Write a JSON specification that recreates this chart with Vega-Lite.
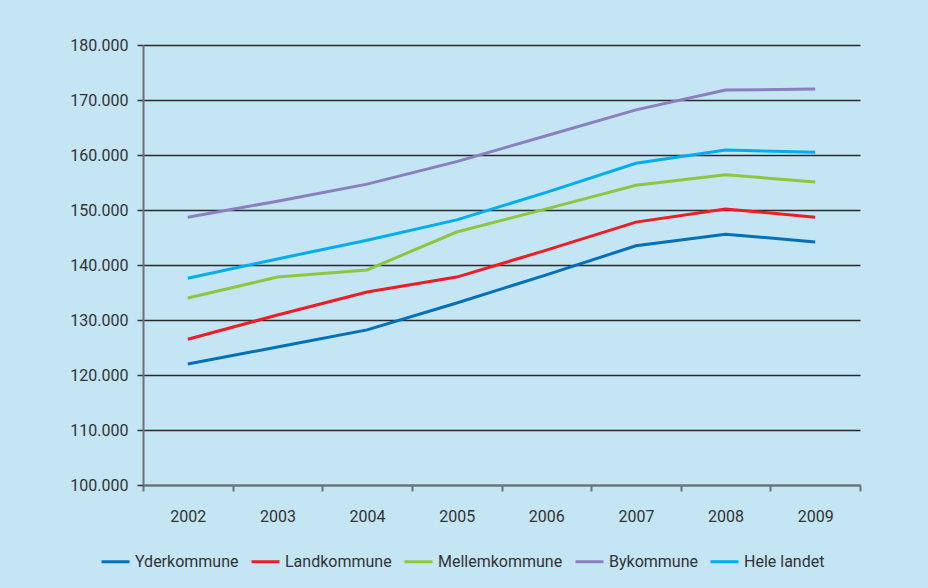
{
  "$schema": "https://vega.github.io/schema/vega-lite/v6.json",
  "width": 717,
  "height": 440,
  "autosize": {"type": "none"},
  "padding": {"left": 143, "top": 45, "right": 68, "bottom": 103},
  "background": "#c3e5f4",
  "config": {
    "locale": {"number": {"decimal": ",", "thousands": ".", "grouping": [3], "currency": ["", " kr"]}},
    "view": {"stroke": null},
    "font": "Roboto"
  },
  "data": {
    "values": [
      {"year": "2002", "series": "Yderkommune", "value": 122000},
      {"year": "2003", "series": "Yderkommune", "value": 125100},
      {"year": "2004", "series": "Yderkommune", "value": 128200},
      {"year": "2005", "series": "Yderkommune", "value": 133100},
      {"year": "2006", "series": "Yderkommune", "value": 138200},
      {"year": "2007", "series": "Yderkommune", "value": 143500},
      {"year": "2008", "series": "Yderkommune", "value": 145600},
      {"year": "2009", "series": "Yderkommune", "value": 144200},
      {"year": "2002", "series": "Landkommune", "value": 126500},
      {"year": "2003", "series": "Landkommune", "value": 130900},
      {"year": "2004", "series": "Landkommune", "value": 135100},
      {"year": "2005", "series": "Landkommune", "value": 137800},
      {"year": "2006", "series": "Landkommune", "value": 142700},
      {"year": "2007", "series": "Landkommune", "value": 147800},
      {"year": "2008", "series": "Landkommune", "value": 150200},
      {"year": "2009", "series": "Landkommune", "value": 148700},
      {"year": "2002", "series": "Mellemkommune", "value": 134000},
      {"year": "2003", "series": "Mellemkommune", "value": 137800},
      {"year": "2004", "series": "Mellemkommune", "value": 139100},
      {"year": "2005", "series": "Mellemkommune", "value": 146000},
      {"year": "2006", "series": "Mellemkommune", "value": 150200},
      {"year": "2007", "series": "Mellemkommune", "value": 154500},
      {"year": "2008", "series": "Mellemkommune", "value": 156400},
      {"year": "2009", "series": "Mellemkommune", "value": 155100},
      {"year": "2002", "series": "Bykommune", "value": 148700},
      {"year": "2003", "series": "Bykommune", "value": 151600},
      {"year": "2004", "series": "Bykommune", "value": 154700},
      {"year": "2005", "series": "Bykommune", "value": 158800},
      {"year": "2006", "series": "Bykommune", "value": 163500},
      {"year": "2007", "series": "Bykommune", "value": 168200},
      {"year": "2008", "series": "Bykommune", "value": 171800},
      {"year": "2009", "series": "Bykommune", "value": 172000},
      {"year": "2002", "series": "Hele landet", "value": 137600},
      {"year": "2003", "series": "Hele landet", "value": 141100},
      {"year": "2004", "series": "Hele landet", "value": 144500},
      {"year": "2005", "series": "Hele landet", "value": 148200},
      {"year": "2006", "series": "Hele landet", "value": 153200},
      {"year": "2007", "series": "Hele landet", "value": 158500},
      {"year": "2008", "series": "Hele landet", "value": 160900},
      {"year": "2009", "series": "Hele landet", "value": 160500}
    ]
  },
  "mark": {"type": "line", "strokeWidth": 3},
  "encoding": {
    "x": {
      "field": "year",
      "type": "ordinal",
      "scale": {"type": "band", "paddingInner": 0, "paddingOuter": 0},
      "axis": {
        "title": null,
        "labelAngle": 0,
        "tickBand": "extent",
        "grid": false,
        "domainColor": "#6b7379",
        "domainWidth": 2,
        "tickColor": "#6b7379",
        "tickWidth": 2,
        "tickSize": 6,
        "labelFont": "Roboto",
        "labelFontSize": 16,
        "labelColor": "#333333",
        "labelPadding": 17
      }
    },
    "y": {
      "field": "value",
      "type": "quantitative",
      "scale": {"domain": [100000, 180000], "nice": false, "zero": false},
      "axis": {
        "title": null,
        "values": [100000, 110000, 120000, 130000, 140000, 150000, 160000, 170000, 180000],
        "format": ",d",
        "grid": true,
        "gridColor": "#2a2a2a",
        "gridWidth": 1.5,
        "domainColor": "#6b7379",
        "domainWidth": 2,
        "tickColor": "#333333",
        "tickWidth": 1.5,
        "tickSize": 6,
        "labelFont": "Roboto",
        "labelFontSize": 16,
        "labelColor": "#333333",
        "labelPadding": 9
      }
    },
    "color": {
      "field": "series",
      "type": "nominal",
      "scale": {
        "domain": ["Yderkommune", "Landkommune", "Mellemkommune", "Bykommune", "Hele landet"],
        "range": ["#0070b8", "#ee1c25", "#8dc63f", "#8c7fc0", "#00aeef"]
      },
      "legend": {
        "title": null,
        "orient": "none",
        "legendX": -43,
        "legendY": 501,
        "direction": "horizontal",
        "symbolType": "stroke",
        "symbolSize": 784,
        "symbolStrokeWidth": 3,
        "labelFont": "Roboto",
        "labelFontSize": 16,
        "labelColor": "#333333",
        "labelOffset": 4,
        "columnPadding": 6
      }
    }
  }
}
